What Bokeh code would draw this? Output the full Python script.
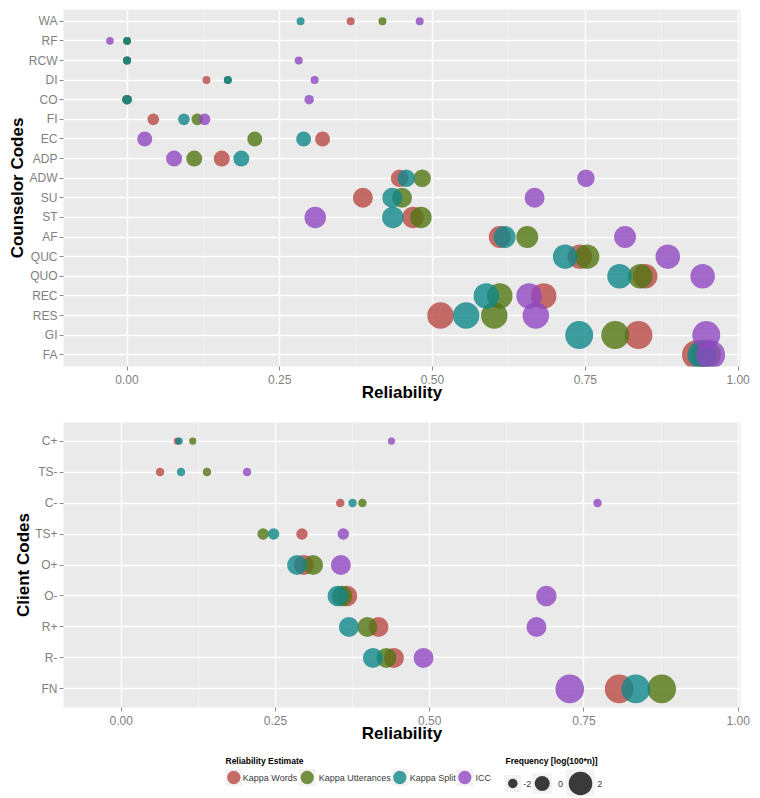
import numpy as np
from bokeh.plotting import figure
from bokeh.layouts import column
from bokeh.models import ColumnDataSource, FactorRange, Range1d, FixedTicker, NumeralTickFormatter
from bokeh.core.properties import value
from bokeh.embed import file_html
from bokeh.resources import INLINE

# ---------------- data ----------------
estimates = ["Kappa Words", "Kappa Utterances", "Kappa Split", "ICC"]
colors = ["#BA4A45", "#517713", "#0F8789", "#9047C2"]

counselor_codes = ["WA", "RF", "RCW", "DI", "CO", "FI", "EC", "ADP", "ADW",
                   "SU", "ST", "AF", "QUC", "QUO", "REC", "RES", "GI", "FA"]
counselor_freq = [-2.78, -3.0, -2.78, -2.78, -2.0, -1.1, 0.0, 0.29, 0.68,
                  1.27, 1.59, 1.69, 2.17, 2.17, 2.35, 2.52, 2.76, 2.92]
counselor_kappa_words = [0.366, 0.0, 0.0, 0.130, 0.0, 0.043, 0.320, 0.155, 0.446,
                         0.386, 0.468, 0.610, 0.741, 0.848, 0.682, 0.513, 0.837, 0.932]
counselor_kappa_utterances = [0.418, 0.0, 0.0, 0.165, 0.0, 0.115, 0.209, 0.110, 0.483,
                              0.450, 0.481, 0.655, 0.753, 0.840, 0.610, 0.601, 0.799, 0.948]
counselor_kappa_split = [0.284, 0.0, 0.0, 0.165, 0.0, 0.093, 0.289, 0.187, 0.457,
                         0.434, 0.435, 0.618, 0.717, 0.806, 0.588, 0.555, 0.740, 0.941]
counselor_icc = [0.479, -0.028, 0.281, 0.307, 0.298, 0.127, 0.029, 0.077, 0.751,
                 0.667, 0.308, 0.815, 0.885, 0.942, 0.658, 0.669, 0.948, 0.955]

client_codes = ["C+", "TS-", "C-", "TS+", "O+", "O-", "R+", "R-", "FN"]
client_freq = [-3.19, -2.51, -2.51, -1.18, 1.27, 1.38, 1.27, 1.27, 2.87]
client_kappa_words = [0.091, 0.063, 0.355, 0.293, 0.296, 0.366, 0.417, 0.442, 0.807]
client_kappa_utterances = [0.116, 0.139, 0.391, 0.230, 0.311, 0.358, 0.399, 0.430, 0.876]
client_kappa_split = [0.094, 0.097, 0.375, 0.247, 0.285, 0.351, 0.369, 0.408, 0.834]
client_icc = [0.438, 0.204, 0.772, 0.360, 0.356, 0.689, 0.673, 0.490, 0.727]

x_ticks = [0.0, 0.25, 0.5, 0.75, 1.0]
x_minor = [0.125, 0.375, 0.625, 0.875]
size_legend_values = [-2, 0, 2]

FONT = "Liberation Sans"
FRAME_LEFT, FRAME_W, RIGHT = 63, 677, 20


def size_px(v):
    # diameter in screen pixels for a frequency value log(100*n)
    return 15.0 * np.exp(0.226 * np.asarray(v, dtype=float))


def build_source(codes, freq, series):
    xs, ys, ss, cs = [], [], [], []
    for vals, col in zip(series, colors):
        xs += list(vals)
        ys += list(codes)
        ss += list(size_px(freq))
        cs += [col] * len(codes)
    return ColumnDataSource(dict(x=xs, y=ys, s=ss, c=cs))


def make_panel(codes, freq, series, ylabel, frame_h, min_top, xr):
    p = figure(frame_width=FRAME_W, frame_height=frame_h,
               x_range=Range1d(*xr),
               y_range=FactorRange(*codes[::-1], range_padding=0.1,
                                   range_padding_units="absolute"),
               output_backend="svg", toolbar_location=None,
               min_border_left=FRAME_LEFT, min_border_right=RIGHT,
               min_border_top=min_top, min_border_bottom=41)
    p.background_fill_color = "#EAEAEA"
    p.border_fill_color = "white"
    p.outline_line_color = None

    p.xaxis.ticker = FixedTicker(ticks=x_ticks, minor_ticks=x_minor)
    p.xaxis.formatter = NumeralTickFormatter(format="0.00")
    p.xgrid.grid_line_color = "white"
    p.xgrid.grid_line_width = 1.3
    p.xgrid.minor_grid_line_color = "#F4F4F4"
    p.xgrid.minor_grid_line_width = 0.7
    p.ygrid.grid_line_color = "white"
    p.ygrid.grid_line_width = 1.3

    for ax in (p.xaxis, p.yaxis):
        ax.axis_line_color = None
        ax.major_tick_line_color = "#8A8A8A"
        ax.major_tick_out = 4
        ax.major_tick_in = 0
        ax.minor_tick_line_color = None
        ax.major_label_text_font = FONT
        ax.major_label_text_font_size = "12px"
        ax.major_label_text_color = "#7F7F7F"
        ax.axis_label_text_font = FONT
        ax.axis_label_text_font_style = "bold"
        ax.axis_label_text_font_size = "17px"
        ax.axis_label_text_color = "black"
    p.xaxis.major_label_standoff = 4
    p.xaxis.axis_label_standoff = -4
    p.yaxis.major_label_standoff = 2
    p.yaxis.axis_label_standoff = -1
    p.xaxis.axis_label = "Reliability"
    p.yaxis.axis_label = ylabel

    src = build_source(codes, freq, series)
    p.scatter(x="x", y="y", size="s", fill_color="c", line_color=None,
              fill_alpha=0.8, source=src)
    return p


p1 = make_panel(counselor_codes, counselor_freq,
                [counselor_kappa_words, counselor_kappa_utterances,
                 counselor_kappa_split, counselor_icc],
                "Counselor Codes", 357, 9, (-0.104, 1.004))
p2 = make_panel(client_codes, client_freq,
                [client_kappa_words, client_kappa_utterances,
                 client_kappa_split, client_icc],
                "Client Codes", 285, 15, (-0.0935, 1.0037))

# ---------------- legend strip (coordinates = page pixels) ----------------
p3 = figure(frame_width=FRAME_W, frame_height=48,
            x_range=Range1d(FRAME_LEFT, FRAME_LEFT + FRAME_W), y_range=Range1d(0, 48),
            x_axis_type=None, y_axis_type=None,
            output_backend="svg", toolbar_location=None,
            min_border_left=FRAME_LEFT, min_border_right=RIGHT,
            min_border_top=0, min_border_bottom=0)
p3.grid.visible = False
p3.outline_line_color = None
p3.background_fill_color = "white"

title_x = [225, 505]
title_y = 36
key_x = [233.3, 306.7, 399.3, 464.3]
key_label_x = [242.3, 318.3, 409.3, 475.0]
key_y = 19
size_key_x = [512.3, 541.7, 580.0]
size_label_x = [526.7, 560.0, 599.3]
size_key_y = 13

p3.text(x=title_x, y=[title_y] * 2,
        text=["Reliability Estimate", "Frequency [log(100*n)]"],
        text_font=value(FONT), text_font_style="bold", text_font_size="8.5px",
        text_color="black", text_baseline="middle", text_align="left")

p3.rect(x=key_x, y=[key_y] * 4, width=17, height=17,
        fill_color="#F2F2F2", line_color=None)
p3.scatter(x=key_x, y=[key_y] * 4, size=13.3, fill_color=colors,
           line_color=None, fill_alpha=0.8)
p3.text(x=key_label_x, y=[key_y] * 4, text=estimates,
        text_font=value(FONT), text_font_size="9px", text_color="#3A3A3A",
        text_baseline="middle", text_align="left")

sz = size_px(size_legend_values)
box = np.maximum(17, sz + 5)
p3.rect(x=size_key_x, y=[size_key_y] * 3, width=box, height=box,
        fill_color="#F2F2F2", line_color=None)
p3.scatter(x=size_key_x, y=[size_key_y] * 3, size=sz, fill_color="#3A3A3A",
           line_color=None)
p3.text(x=size_label_x, y=[size_key_y] * 3, text=[str(v) for v in size_legend_values],
        text_font=value(FONT), text_font_size="9px", text_color="#3A3A3A",
        text_baseline="middle", text_align="center")

layout = column(p1, p2, p3, spacing=0)
open("out.html", "w").write(file_html(layout, INLINE))
